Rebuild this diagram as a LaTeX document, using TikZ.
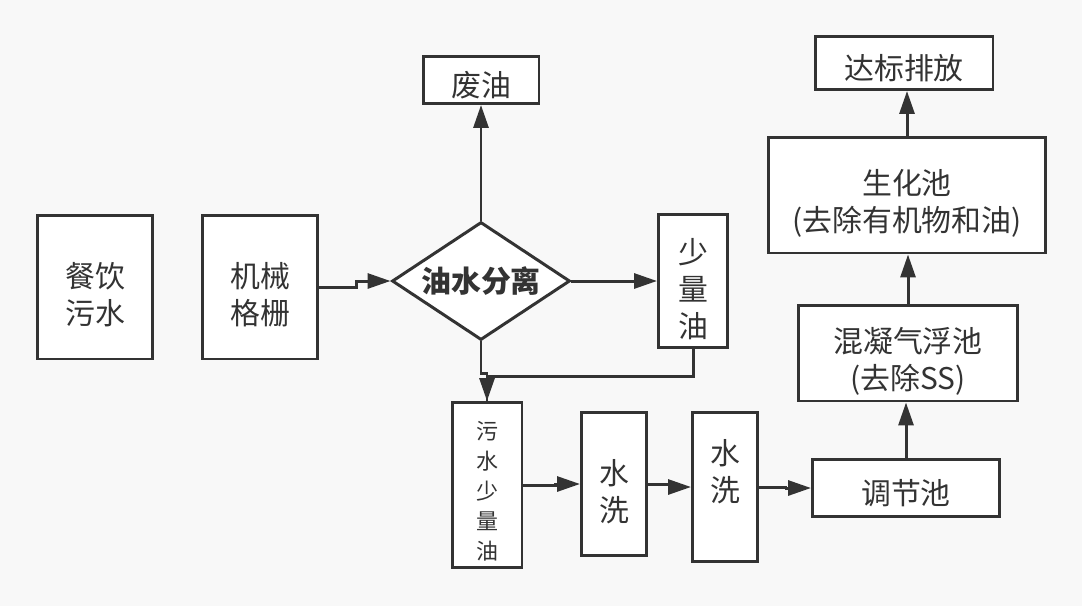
\documentclass[tikz,border=0pt]{standalone}
\usepackage{fontspec}
\setmainfont{Noto Sans CJK SC}
\usetikzlibrary{shapes.geometric,arrows.meta}
\definecolor{linec}{HTML}{333333}
\definecolor{bgc}{HTML}{F8F8F8}
\newcommand\tstrut{\rule{0pt}{0.82cm}}
\begin{document}
\begin{tikzpicture}[x=0.02cm,y=-0.02cm,
    plainbox/.style={draw=linec,line width=1.7pt,fill=white,text=linec,align=center,inner sep=0pt,font=\fontsize{17}{21}\selectfont},
    box/.style={plainbox,execute at begin node={\rule{0pt}{0.72cm}}},
    arr/.style={draw=linec,line width=1.7pt,-{Triangle[length=0.46cm,width=0.3cm]}},
    pipe/.style={draw=linec,line width=1.7pt}]
            \fill[bgc] (0,0) rectangle (1082,606);
            \useasboundingbox (0,0) rectangle (1082,606);
            % left part
            \node[plainbox,minimum width=2.32cm,minimum height=2.88cm] (canyin) at (95,287) {\tstrut 餐饮\\污水};
            \node[plainbox,minimum width=2.32cm,minimum height=2.88cm] (geshan) at (260,287) {\tstrut 机械\\格栅};
            \node[plainbox,diamond,aspect=1.5,minimum width=3.56cm,minimum height=2.36cm,font=\fontsize{17}{21}\selectfont\bfseries] (fenli) at (481,281) {油水分离};
            \node[box,minimum width=2.32cm,minimum height=0.94cm] (feiyou) at (481,80) {废油};
            \node[plainbox,minimum width=1.38cm,minimum height=2.66cm] (shaoliang) at (693,281) {\tstrut 少\\量\\油};
            % bottom row
            \node[plainbox,minimum width=1.4cm,minimum height=3.3cm,font=\fontsize{12.5}{17}\selectfont] (wushui) at (487,485) {\rule{0pt}{0.62cm}污\\水\\少\\量\\油};
            \node[plainbox,minimum width=1.3cm,minimum height=2.86cm] (shuixi1) at (614,484) {\tstrut 水\\洗};
            \node[plainbox,minimum width=1.3cm,minimum height=2.98cm] (shuixi2) at (725,487) {水\\洗\rule[-0.67cm]{0pt}{0pt}};
            \node[box,minimum width=3.74cm,minimum height=1.14cm] (tiaojie) at (906,488) {调节池};
            % right column
            \node[plainbox,minimum width=4.4cm,minimum height=1.92cm] (qifu) at (908,353) {\tstrut 混凝气浮池\\(去除SS)};
            \node[plainbox,minimum width=5.56cm,minimum height=2.32cm] (shenghua) at (907,195) {\tstrut 生化池\\(去除有机物和油)};
            \node[box,minimum width=3.56cm,minimum height=1.06cm] (dabiao) at (904,63) {达标排放};
            % connectors
            \draw[arr] (geshan.east) -- ++(37,0) |- (fenli.west);
            \draw[arr] (fenli.north) -- (feiyou.south);
            \draw[arr] (fenli.east) -- (shaoliang.west);
            \draw[pipe] (shaoliang.south) -- ++(0,28) -| (wushui.north);
            \draw[arr] (fenli.south) -- ++(0,32) -| (wushui.north);
            \draw[arr] (wushui.east) -- ++(32,0) |- (shuixi1.west);
            \draw[arr] (shuixi1.east) -- ++(22,0) |- (shuixi2.west);
            \draw[arr] (shuixi2.east) -- ++(27,0) |- (tiaojie.west);
            \draw[arr] (tiaojie.north) -- (tiaojie.north |- qifu.south);
            \draw[arr] (qifu.north) -- (qifu.north |- shenghua.south);
            \draw[arr] (shenghua.north) -- (shenghua.north |- dabiao.south);
        \end{tikzpicture}
\end{document}
